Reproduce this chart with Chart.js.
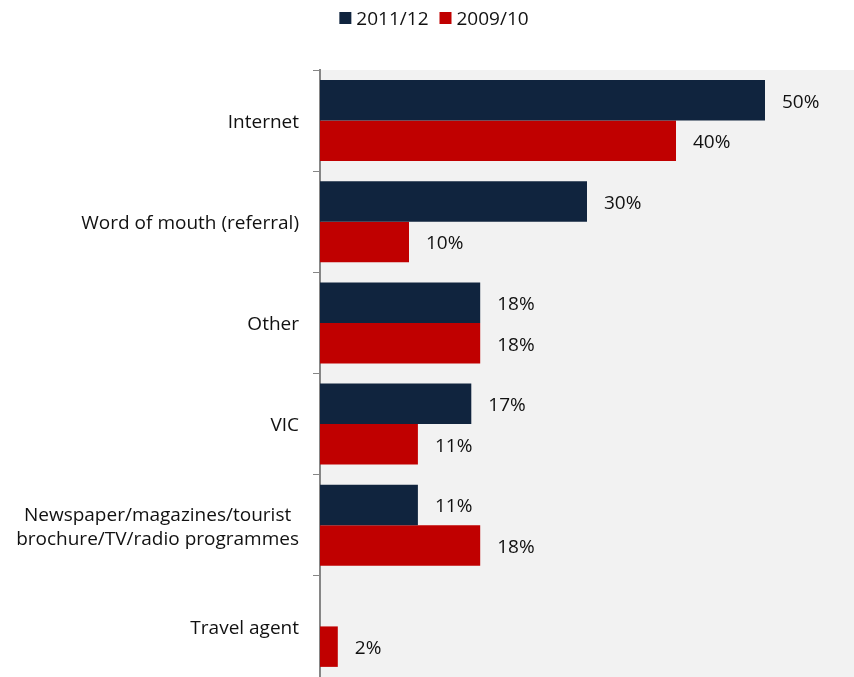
<!DOCTYPE html>
<html>
<head>
<meta charset="utf-8">
<script src="https://cdn.jsdelivr.net/npm/chart.js@4.4.1/dist/chart.umd.min.js"></script>
<style>
  html, body { margin: 0; padding: 0; background: #fff; }
  #wrap { width: 854px; height: 677px; position: relative; }
</style>
</head>
<body>
<div id="wrap"><canvas id="sourceChart"></canvas></div>
<script>
// Categories (multi-line labels are arrays)
const categories = [
  ['Internet'],
  ['Word of mouth (referral)'],
  ['Other'],
  ['VIC'],
  ['Newspaper/magazines/tourist', 'brochure/TV/radio programmes'],
  ['Travel agent']
];
const seriesNames = ['2011/12', '2009/10'];
const values2011 = [50, 30, 18, 17, 11, null];
const values2009 = [40, 10, 18, 11, 18, 2];
const xTicks = [0, 60];

const FONT = '19px "Open Sans", sans-serif';
const TEXT = '#111';
const colors = ['#10243e', '#c00000'];
const TEXT_DY = 2; // Open Sans sits a little high with textBaseline 'middle'

// light grey plot area behind the bars
const plotBackground = {
  id: 'plotBackground',
  beforeDraw(chart) {
    const { ctx, chartArea: a } = chart;
    ctx.save();
    ctx.fillStyle = '#f2f2f2';
    ctx.fillRect(a.left, a.top, a.right - a.left, a.bottom - a.top);
    ctx.restore();
  }
};

// category names, each block centred on itself and right-aligned to the axis
const categoryLabels = {
  id: 'categoryLabels',
  afterDraw(chart) {
    const { ctx, chartArea } = chart;
    const yScale = chart.scales.y;
    const lineH = 24;
    ctx.save();
    ctx.font = FONT;
    ctx.fillStyle = TEXT;
    ctx.textAlign = 'center';
    ctx.textBaseline = 'middle';
    categories.forEach((lines, i) => {
      const y = yScale.getPixelForValue(i) + TEXT_DY;
      const w = Math.max(...lines.map(l => ctx.measureText(l).width));
      const cx = chartArea.left - 21 - w / 2;
      const y0 = y - (lines.length - 1) * lineH / 2;
      lines.forEach((l, j) => ctx.fillText(l, cx, y0 + j * lineH));
    });
    ctx.restore();
  }
};

// percentage next to each bar
const valueLabels = {
  id: 'valueLabels',
  afterDatasetsDraw(chart) {
    const { ctx } = chart;
    ctx.save();
    ctx.font = FONT;
    ctx.fillStyle = TEXT;
    ctx.textAlign = 'left';
    ctx.textBaseline = 'middle';
    chart.data.datasets.forEach((ds, di) => {
      chart.getDatasetMeta(di).data.forEach((bar, i) => {
        const v = ds.data[i];
        if (v === null) return;
        ctx.fillText(v + '%', bar.x + 17, bar.y + TEXT_DY);
      });
    });
    ctx.restore();
  }
};

// legend row at the top
const topLegend = {
  id: 'topLegend',
  afterDraw(chart) {
    const { ctx } = chart;
    const box = 12, gap = 5, spacing = 11, y = 18;
    ctx.save();
    ctx.font = FONT;
    ctx.textBaseline = 'middle';
    ctx.textAlign = 'left';
    const widths = seriesNames.map(n => ctx.measureText(n).width);
    const total = widths.reduce((s, w) => s + box + gap + w, 0) + spacing * (seriesNames.length - 1);
    let x = chart.width / 2 + 7 - total / 2;
    seriesNames.forEach((n, i) => {
      ctx.fillStyle = colors[i];
      ctx.fillRect(x, y - box / 2, box, box);
      ctx.fillStyle = TEXT;
      ctx.fillText(n, x + box + gap, y + TEXT_DY);
      x += box + gap + widths[i] + spacing;
    });
    ctx.restore();
  }
};

new Chart(document.getElementById('sourceChart'), {
  type: 'bar',
  data: {
    labels: categories,
    datasets: [
      { label: seriesNames[0], data: values2011, backgroundColor: colors[0] },
      { label: seriesNames[1], data: values2009, backgroundColor: colors[1] }
    ]
  },
  options: {
    indexAxis: 'y',
    responsive: true,
    maintainAspectRatio: false,
    animation: false,
    layout: { padding: { top: 70, left: 0, right: 0, bottom: 0 } },
    datasets: {
      bar: { barPercentage: 1, categoryPercentage: 0.8, borderWidth: 0 }
    },
    scales: {
      x: {
        display: false,
        min: xTicks[0],
        max: xTicks[1]
      },
      y: {
        ticks: { display: false },
        grid: {
          offset: true,
          drawOnChartArea: false,
          drawTicks: true,
          tickLength: 7,
          color: '#868686'
        },
        border: { display: true, color: '#868686', width: 2 },
        afterFit(scale) { scale.width = 320; }
      }
    },
    plugins: {
      legend: { display: false },
      tooltip: { enabled: false }
    }
  },
  plugins: [plotBackground, categoryLabels, valueLabels, topLegend]
});
</script>
</body>
</html>
